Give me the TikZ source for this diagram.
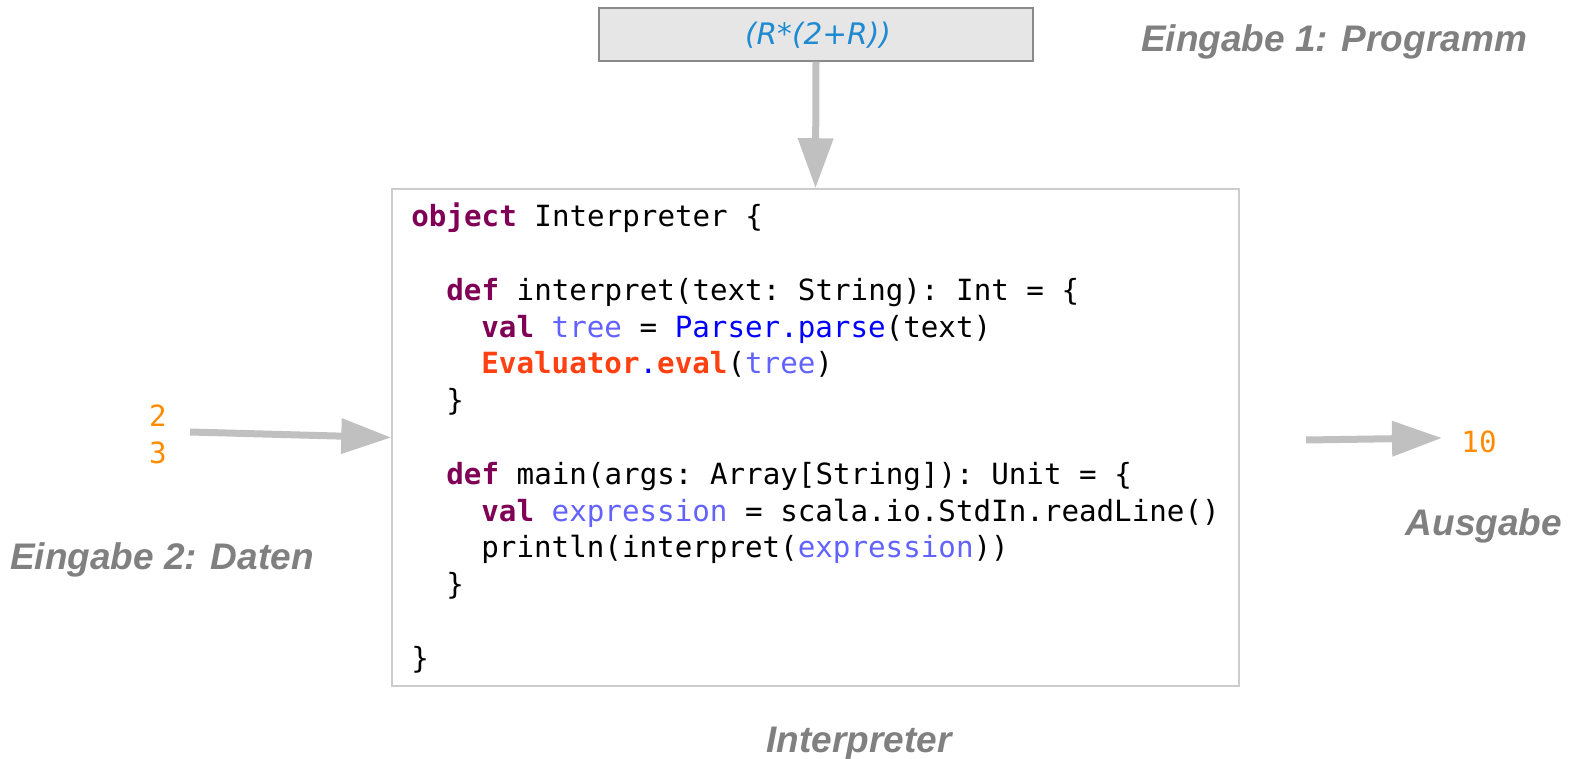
\documentclass[tikz,border=0pt]{standalone}
\usepackage{fontspec}
\setmainfont{Liberation Sans}
\newfontfamily\codefont{DejaVu Sans Mono}
\newfontfamily\exprfont{DejaVu Sans}
\usetikzlibrary{arrows.meta}

\definecolor{kwcol}{HTML}{7F0055}
\definecolor{varcol}{HTML}{6262FF}
\definecolor{callcol}{HTML}{0000FF}
\definecolor{evalcol}{HTML}{FF4010}
\definecolor{exprcol}{HTML}{1E8AD2}
\definecolor{numcol}{HTML}{FF8C00}
\definecolor{labelgray}{HTML}{808080}
\definecolor{arrowgray}{HTML}{C0C0C0}
\definecolor{boxline}{HTML}{CCCCCC}
\definecolor{progfill}{HTML}{E6E6E6}
\definecolor{progline}{HTML}{8A8A8A}

\newcommand\kw[1]{\textcolor{kwcol}{\bfseries #1}}
\newcommand\var[1]{\textcolor{varcol}{#1}}
\newcommand\call[1]{\textcolor{callcol}{#1}}
\newcommand\evl[1]{\textcolor{evalcol}{\bfseries #1}}

\tikzset{
  codeline/.style={anchor=base west, inner sep=0pt,
    font=\codefont\fontsize{14.6}{18.4}\selectfont\frenchspacing},
  caption/.style={anchor=base, inner sep=0pt, text=labelgray,
    font=\fontsize{18.5}{22}\selectfont\bfseries\itshape},
  number/.style={anchor=base, inner sep=0pt, text=numcol,
    font=\codefont\fontsize{14.6}{18.4}\selectfont},
  flow/.style={draw=arrowgray, line width=3.5pt,
    -{Triangle[length=25pt,width=17pt]}},
}

\begin{document}
\begin{tikzpicture}[x=0.5pt,y=-0.5pt]
  \useasboundingbox (0,0) rectangle (1570,759);

  % program input box
  \node[draw=progline, fill=progfill, line width=0.6pt, inner sep=0pt,
        minimum width=217pt, minimum height=26.5pt] (prog) at (816,34.5) {};
  \node[anchor=base, inner sep=0pt, text=exprcol,
        font=\exprfont\itshape\fontsize{14.8}{18}\selectfont] (expr) at (818,45) {(R*(2+R))};

  % interpreter source box
  \node[draw=boxline, line width=0.75pt, inner sep=0pt,
        minimum width=423.5pt, minimum height=248.5pt] (code) at (815.5,437.5) {};

  \node[codeline] (l0)  at (411,227)    {\kw{object} Interpreter \{};
  \node[codeline] (l2)  at (446,300.5)  {\kw{def} interpret(text: String): Int = \{};
  \node[codeline] (l3)  at (481,337.25) {\kw{val} \var{tree} = \call{Parser.parse}(text)};
  \node[codeline] (l4)  at (481,374)    {\evl{Evaluator}\call{.}\evl{eval}(\var{tree})};
  \node[codeline] (l5)  at (446,410.75) {\}};
  \node[codeline] (l7)  at (446,484.25) {\kw{def} main(args: Array[String]): Unit = \{};
  \node[codeline] (l8)  at (481,521)    {\kw{val} \var{expression} = scala.io.StdIn.readLine()};
  \node[codeline] (l9)  at (481,557.75) {println(interpret(\var{expression}))};
  \node[codeline] (l10) at (446,594.5)  {\}};
  \node[codeline] (l12) at (411,668)    {\}};

  % data input and output values
  \node[number] (d2) at (158,426) {2};
  \node[number] (d3) at (158,463) {3};
  \node[number] (out) at (1479,452) {10};
  \coordinate (din) at (190,432);
  \coordinate (ostart) at (1306,440);
  \coordinate (oend) at (1442,438);

  % flows
  \draw[flow] (prog.south) -- (code.north);
  \draw[flow] (din) -- (code.west);
  \draw[flow] (ostart) -- (oend);

  % captions
  \node[caption] (cap1) at (1334,52)  {Eingabe 1: Programm};
  \node[caption] (cap2) at (162,569)  {Eingabe 2: Daten};
  \node[caption] (cap3) at (1484,535) {Ausgabe};
  \node[caption] (cap4) at (859,752)  {Interpreter};
\end{tikzpicture}
\end{document}
